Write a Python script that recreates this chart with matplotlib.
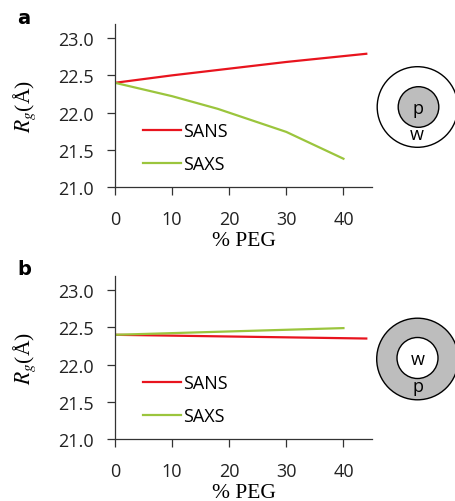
import matplotlib
matplotlib.use("Agg")
import matplotlib.pyplot as plt
from matplotlib.patches import Circle

plt.rcParams['font.family'] = ['Open Sans', 'DejaVu Sans']
plt.rcParams['mathtext.fontset'] = 'stix'

# panel a: Rg vs % PEG
peg_a_sans = [0, 10, 20, 30, 44]
rg_a_sans = [22.40, 22.50, 22.59, 22.68, 22.79]
peg_a_saxs = [0, 10, 18, 30, 40]
rg_a_saxs = [22.40, 22.22, 22.05, 21.74, 21.38]

# panel b
peg_b_sans = [0, 44]
rg_b_sans = [22.40, 22.35]
peg_b_saxs = [0, 40]
rg_b_saxs = [22.40, 22.49]

yticks = [21.0, 21.5, 22.0, 22.5, 23.0]
xticks = [0, 10, 20, 30, 40]

RED = '#e8141e'
GREEN = '#9bc53d'
AXC = '#333333'

fig = plt.figure(figsize=(4.55, 5.02), dpi=100)

W, H = 455, 502
panels = [
    ('a', 25, 188, (peg_a_sans, rg_a_sans), (peg_a_saxs, rg_a_saxs)),
    ('b', 277, 440, (peg_b_sans, rg_b_sans), (peg_b_saxs, rg_b_saxs)),
]

for label, ytop, ybot, sans, saxs in panels:
    ax = fig.add_axes([115 / W, 1 - ybot / H, 257 / W, (ybot - ytop) / H])
    ax.plot(*sans, color=RED, lw=1.6, label='SANS')
    ax.plot(*saxs, color=GREEN, lw=1.6, label='SAXS')
    ax.set_xlim(0, 45)
    ax.set_ylim(21.0, 23.19)
    ax.set_xticks(xticks)
    ax.set_yticks(yticks)
    ax.set_yticklabels([f'{v:.1f}' for v in yticks])
    for s in ['top', 'right']:
        ax.spines[s].set_visible(False)
    for s in ['left', 'bottom']:
        ax.spines[s].set_color(AXC)
        ax.spines[s].set_linewidth(0.9)
    ax.tick_params(axis='both', direction='out', length=5.5, width=0.9,
                   color=AXC, labelsize=13, labelcolor='#222222')
    ax.tick_params(axis='x', pad=11)
    ax.tick_params(axis='y', pad=10)
    ax.set_xlabel('% PEG', family='Liberation Serif', fontsize=15.5,
                  labelpad=2)
    ax.set_ylabel('$R_g$(Å)', family='Liberation Serif', fontsize=15.5,
                  labelpad=14)
    leg = ax.legend(loc='lower left', bbox_to_anchor=(0.047, -0.015),
                    frameon=False, fontsize=13, handlelength=2.1,
                    handletextpad=0.1, labelspacing=0.85)
    fig.text(17 / W, 1 - (ytop - 7) / H, label, fontsize=14,
             fontweight='bold', family='DejaVu Sans', va='center',
             ha='left')

# schematic circles on an overlay in pixel coordinates
ov = fig.add_axes([0, 0, 1, 1], zorder=-1)
ov.set_xlim(0, W)
ov.set_ylim(H, 0)
ov.axis('off')

ov.add_patch(Circle((417.5, 108), 40.3, facecolor='white',
                    edgecolor='black', lw=1.0))
ov.add_patch(Circle((418.5, 108), 20.3, facecolor='#bdbdbd',
                    edgecolor='black', lw=1.0))
ov.text(418.5, 109, 'p', fontsize=13, ha='center', va='center')
ov.text(417, 135, 'w', fontsize=13, ha='center', va='center')

ov.add_patch(Circle((417.5, 360), 40.8, facecolor='#bdbdbd',
                    edgecolor='black', lw=1.0))
ov.add_patch(Circle((417.5, 359), 20.5, facecolor='white',
                    edgecolor='black', lw=1.0))
ov.text(417.5, 360, 'w', fontsize=13, ha='center', va='center')
ov.text(417.5, 387, 'p', fontsize=13, ha='center', va='center')

fig.savefig('out.png', dpi=100)
